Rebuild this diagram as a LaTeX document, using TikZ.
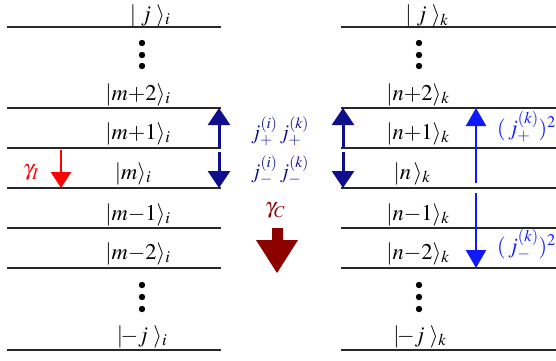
\documentclass[tikz,border=0pt]{standalone}
\usepackage{mathptmx}
\usetikzlibrary{arrows.meta}
\definecolor{navyb}{RGB}{15,15,140}
\definecolor{brightb}{RGB}{15,25,255}
\definecolor{darkr}{RGB}{140,0,0}
\definecolor{lvlgray}{RGB}{40,40,40}
\begin{document}
\begin{tikzpicture}[x=1pt,y=-1pt,
  lvl/.style={draw=lvlgray,line width=1.3pt},
  lev/.style={font=\fontsize{22.5}{24}\selectfont,anchor=base,inner sep=0pt},
  jl/.style={font=\fontsize{21}{23}\selectfont,text=navyb,inner sep=0pt},
  bl/.style={font=\fontsize{22}{24}\selectfont,text=brightb,inner sep=0pt},
  navyarrow/.style={draw=navyb,line width=3pt,-{Triangle[width=22pt,length=17pt]}},
  bluearrow/.style={draw=brightb,line width=2.6pt,-{Triangle[width=20pt,length=18pt]}},
  redarrow/.style={draw=red,line width=2.4pt,-{Triangle[width=20pt,length=16pt]}},
  dot/.style={fill=black}
]
\useasboundingbox (0,0) rectangle (556,360);
% level lines
\foreach \y in {27,108,148,188,228,268,350}{
  \draw[lvl] (7,\y) -- (221,\y);
  \draw[lvl] (341,\y) -- (556,\y);
}
% left labels
\node[lev] (i0) at (150,21.5) {$|\;j\;\rangle_i$};
\node[lev] (i2) at (138,100) {$|m{+}2\rangle_i$};
\node[lev] (i1) at (138,139) {$|m{+}1\rangle_i$};
\node[lev] (im) at (133,179) {$|m\rangle_i$};
\node[lev] (im1) at (138,220) {$|m{-}1\rangle_i$};
\node[lev] (im2) at (138,259) {$|m{-}2\rangle_i$};
\node[lev] (imj) at (142,342) {$|\!{-}j\;\rangle_i$};
% right labels
\node[lev] (k0) at (427,21.5) {$|\;j\;\rangle_k$};
\node[lev] (k2) at (418,100) {$|n{+}2\rangle_k$};
\node[lev] (k1) at (418,139) {$|n{+}1\rangle_k$};
\node[lev] (kn) at (412,179) {$|n\,\rangle_k$};
\node[lev] (kn1) at (418,220) {$|n{-}1\rangle_k$};
\node[lev] (kn2) at (418,259) {$|n{-}2\rangle_k$};
\node[lev] (knj) at (420,342) {$|\!{-}j\;\rangle_k$};
% dots
\foreach \x in {142,419}{
  \foreach \y in {43,55,66,285,297,309}{
    \fill[dot] (\x,\y) circle (3.2);
  }
}
% navy arrows (left)
\coordinate (l1b) at (219,148);
\coordinate (l1t) at (219,108);
\coordinate (l2t) at (219,152);
\coordinate (l2b) at (219,188);
\draw[navyarrow] (l1b) -- (l1t);
\draw[navyarrow] (l2t) -- (l2b);
% navy arrows (right)
\coordinate (r1b) at (343,148);
\coordinate (r1t) at (343,108);
\coordinate (r2t) at (343,152);
\coordinate (r2b) at (343,188);
\draw[navyarrow] (r1b) -- (r1t);
\draw[navyarrow] (r2t) -- (r2b);
% j labels
\node[jl] (jp) at (280,131) {$j^{(i)}_{+}\,j^{(k)}_{+}$};
\node[jl] (jm) at (280,170) {$j^{(i)}_{-}\,j^{(k)}_{-}$};
% bright blue arrows
\coordinate (b1b) at (476,183);
\coordinate (b1t) at (476,108);
\coordinate (b2t) at (476,193);
\coordinate (b2b) at (476,268);
\draw[bluearrow] (b1b) -- (b1t);
\draw[bluearrow] (b2t) -- (b2b);
\node[bl,anchor=east] (bp) at (556,127) {$(\,j^{(k)}_{+})^2$};
\node[bl,anchor=east] (bm) at (556,245) {$(\,j^{(k)}_{-})^2$};
% gamma I
\node[font=\fontsize{22}{24}\selectfont,text=red,inner sep=0pt] (gi) at (31,173) {$\gamma_I$};
\coordinate (gis) at (61,150);
\coordinate (gie) at (61,188);
\draw[redarrow] (gis) -- (gie);
% gamma C
\node[font=\fontsize{22}{24}\selectfont,text=darkr,inner sep=0pt] (gc) at (275,211) {$\gamma_C$};
\fill[darkr] (272,228) -- (283,228) -- (283,240) -- (298,240) -- (277,273) -- (256,240) -- (272,240) -- cycle;
\end{tikzpicture}
\end{document}
